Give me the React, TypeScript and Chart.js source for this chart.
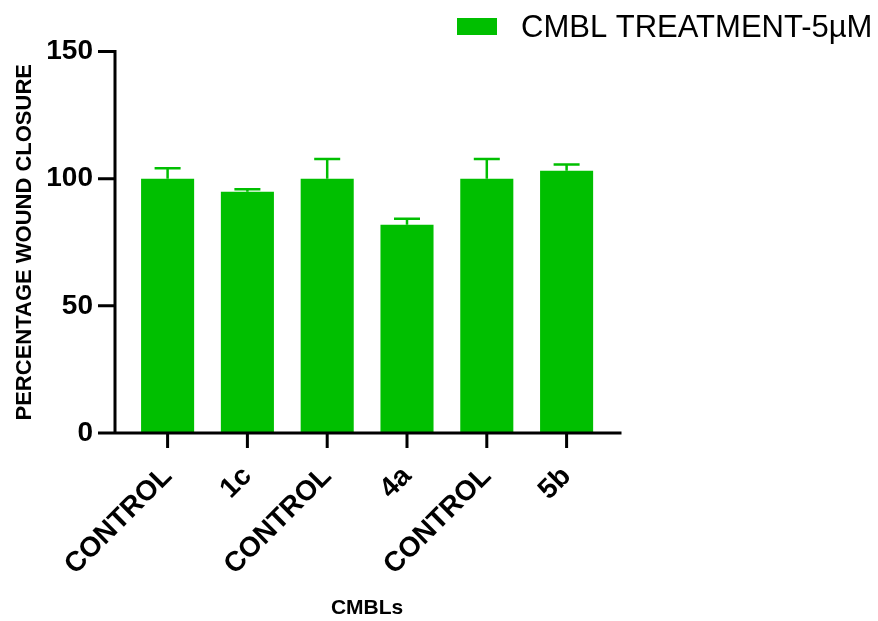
import React, { useEffect, useRef } from "react";
import { Chart, registerables } from "chart.js";

Chart.register(...registerables);

const categories = ["CONTROL", "1c", "CONTROL", "4a", "CONTROL", "5b"];
const values = [100, 94.9, 100, 81.9, 100, 103.1];
const errors = [4.1, 0.9, 7.7, 2.3, 7.7, 2.5];
const yTicks = [0, 50, 100, 150];
const seriesLabel = "CMBL TREATMENT-5µM";
const xTitle = "CMBLs";
const yTitle = "PERCENTAGE WOUND CLOSURE";

const GREEN = "#00BF00";
const FONT = "Arial, 'Liberation Sans', sans-serif";

const axesPlugin = {
  id: "customAxes",
  afterDatasetsDraw(chart: any) {
    const ctx = chart.ctx;
    const y = chart.scales.y;
    const meta = chart.getDatasetMeta(0);
    const area = chart.chartArea;
    // error bars
    ctx.save();
    ctx.strokeStyle = GREEN;
    ctx.lineWidth = 2.5;
    meta.data.forEach((bar: any, i: number) => {
      const yb = y.getPixelForValue(values[i]);
      const yt = y.getPixelForValue(values[i] + errors[i]);
      ctx.beginPath();
      ctx.moveTo(bar.x, yb);
      ctx.lineTo(bar.x, yt);
      ctx.moveTo(bar.x - 13, yt);
      ctx.lineTo(bar.x + 13, yt);
      ctx.stroke();
    });
    ctx.restore();

    // axes
    ctx.save();
    ctx.strokeStyle = "#000";
    ctx.lineWidth = 3;
    ctx.lineCap = "butt";
    const axisX = area.left - 12.7;
    const y0 = y.getPixelForValue(0);
    const yTop = y.getPixelForValue(yTicks[yTicks.length - 1]);
    ctx.beginPath();
    ctx.moveTo(axisX, yTop - 1.5);
    ctx.lineTo(axisX, y0);
    yTicks.forEach((t) => {
      const py = y.getPixelForValue(t);
      ctx.moveTo(axisX - 17, py);
      ctx.lineTo(axisX, py);
    });
    ctx.moveTo(axisX - 16, y0);
    ctx.lineTo(area.right + 15, y0);
    meta.data.forEach((bar: any) => {
      ctx.moveTo(bar.x, y0);
      ctx.lineTo(bar.x, y0 + 15);
    });
    ctx.stroke();
    ctx.restore();
  },
  afterDraw(chart: any) {
    const ctx = chart.ctx;
    ctx.save();
    ctx.fillStyle = GREEN;
    ctx.fillRect(457, 18, 40, 17);
    ctx.fillStyle = "#000";
    ctx.font = `31px ${FONT}`;
    ctx.textBaseline = "alphabetic";
    ctx.textAlign = "left";
    ctx.fillText(seriesLabel, 521, 37);
    ctx.restore();
  },
};

export default function App() {
  const canvasRef = useRef<HTMLCanvasElement | null>(null);

  useEffect(() => {
    const canvas = canvasRef.current;
    if (!canvas) return;
    const chart = new Chart(canvas, {
      type: "bar",
      data: {
        labels: categories,
        datasets: [
          {
            label: seriesLabel,
            data: values,
            backgroundColor: GREEN,
            borderWidth: 0,
            categoryPercentage: 1,
            barPercentage: 0.665,
          },
        ],
      },
      options: {
        animation: false,
        responsive: false,
        maintainAspectRatio: false,
        layout: { padding: { left: 12, right: 271.5, top: 49, bottom: 0 } },
        plugins: {
          legend: { display: false },
          tooltip: { enabled: false },
        },
        scales: {
          x: {
            offset: true,
            grid: { display: false, drawTicks: false },
            border: { display: false },
            ticks: {
              color: "#000",
              font: { family: FONT, size: 28, weight: "bold" },
              minRotation: 45,
              maxRotation: 45,
              padding: 27,
              autoSkip: false,
            },
            title: {
              display: true,
              text: xTitle,
              color: "#000",
              font: { family: FONT, size: 21, weight: "bold" },
              padding: 0,
            },
            afterFit: (s: any) => {
              s.height = 188;
            },
          },
          y: {
            min: 0,
            max: 150,
            grid: { display: false, drawTicks: false },
            border: { display: false },
            ticks: {
              stepSize: 50,
              color: "#000",
              font: { family: FONT, size: 28, weight: "bold" },
              padding: 34.7,
            },
            title: {
              display: true,
              text: yTitle,
              color: "#000",
              font: { family: FONT, size: 22, weight: "bold" },
              padding: 0,
            },
            afterFit: (s: any) => {
              s.width = 115.7;
            },
          },
        },
      },
      plugins: [axesPlugin],
    });
    return () => chart.destroy();
  }, []);

  return (
    <div style={{ position: "absolute", left: 0, top: 0, width: 878, height: 621, background: "#fff" }}>
      <canvas ref={canvasRef} width={878} height={621} style={{ display: "block", width: 878, height: 621 }} />
    </div>
  );
}
